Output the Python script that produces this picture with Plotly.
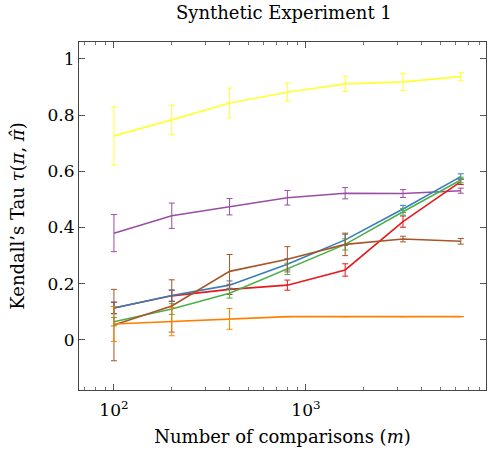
import plotly.graph_objects as go

x_vals = [100, 200, 400, 800, 1600, 3200, 6400]

series_names = ["yellow", "purple", "red", "blue", "green", "brown", "orange"]
colors = ["#ffff33", "#984ea3", "#e41a1c", "#377eb8", "#4daf4a", "#a65628", "#ff7f00"]

y_yellow = [0.726, 0.783, 0.843, 0.881, 0.911, 0.918, 0.937]
e_yellow = [0.104, 0.052, 0.053, 0.032, 0.027, 0.030, 0.015]

y_purple = [0.380, 0.442, 0.474, 0.506, 0.522, 0.521, 0.531]
e_purple = [0.066, 0.045, 0.029, 0.026, 0.020, 0.014, 0.009]

y_red = [0.114, 0.157, 0.180, 0.195, 0.249, 0.421, 0.563]
e_red = [0.020, 0.020, 0.018, 0.018, 0.022, 0.020, 0.010]

y_blue = [0.114, 0.158, 0.195, 0.269, 0.356, 0.466, 0.581]
e_blue = [0.021, 0.020, 0.015, 0.020, 0.020, 0.013, 0.010]

y_green = [0.065, 0.110, 0.166, 0.253, 0.340, 0.456, 0.569]
e_green = [0.015, 0.019, 0.017, 0.020, 0.020, 0.012, 0.010]

y_brown = [0.053, 0.121, 0.244, 0.287, 0.340, 0.359, 0.351]
e_brown = [0.127, 0.093, 0.060, 0.045, 0.040, 0.010, 0.010]

y_orange = [0.057, 0.065, 0.075, 0.083, 0.083, 0.083, 0.083]
e_orange = [0.062, 0.050, 0.037, 0.0, 0.0, 0.0, 0.0]

ys = [y_yellow, y_purple, y_red, y_blue, y_green, y_brown, y_orange]
es = [e_yellow, e_purple, e_red, e_blue, e_green, e_brown, e_orange]

y_ticks = [0, 0.2, 0.4, 0.6, 0.8, 1]
y_ticktext = ["0", "0.2", "0.4", "0.6", "0.8", "1"]
x_ticks = [100, 1000]
x_ticktext = ["10<sup>2</sup>", "10<sup>3</sup>"]

FONT = "DejaVu Serif"

fig = go.Figure()
for name, c, y, e in zip(series_names, colors, ys, es):
    fig.add_trace(go.Scatter(
        x=x_vals, y=y, mode="lines", name=name,
        line=dict(color=c, width=1.6),
        error_y=dict(type="data", array=e, visible=True, color=c, thickness=1, width=3),
        showlegend=False,
    ))

fig.update_layout(
    width=495, height=455,
    margin=dict(l=79, r=9, t=42, b=65),
    paper_bgcolor="white", plot_bgcolor="white",
    font=dict(family=FONT, size=17, color="black"),
    title=dict(text="Synthetic Experiment 1", x=0.5735, xanchor="center",
               y=0.973, yanchor="middle", font=dict(family=FONT, size=18)),
)
fig.update_xaxes(
    type="log", range=[1.818, 3.9375],
    tickvals=x_ticks, ticktext=x_ticktext,
    ticks="inside", ticklen=6, tickcolor="#555", tickwidth=1,
    ticklabelstandoff=5,
    minor=dict(ticks="inside", ticklen=3, tickcolor="#777", dtick="D1", showgrid=False),
    showline=True, linecolor="#444", linewidth=1, mirror="ticks",
    showgrid=False, zeroline=False,
    title=dict(text="Number of comparisons (<i>m</i>)", font=dict(family=FONT, size=18), standoff=10),
)
fig.update_yaxes(
    range=[-0.178, 1.06],
    tickvals=y_ticks, ticktext=y_ticktext,
    ticks="inside", ticklen=6, tickcolor="#555", tickwidth=1,
    showline=True, linecolor="#444", linewidth=1, mirror="ticks",
    showgrid=False, zeroline=False,
    title=dict(text="Kendall’s Tau <i>τ</i>(<i>π</i>, <i>π̂</i>)", font=dict(family=FONT, size=18), standoff=18),
)

fig.write_html("out.html")
